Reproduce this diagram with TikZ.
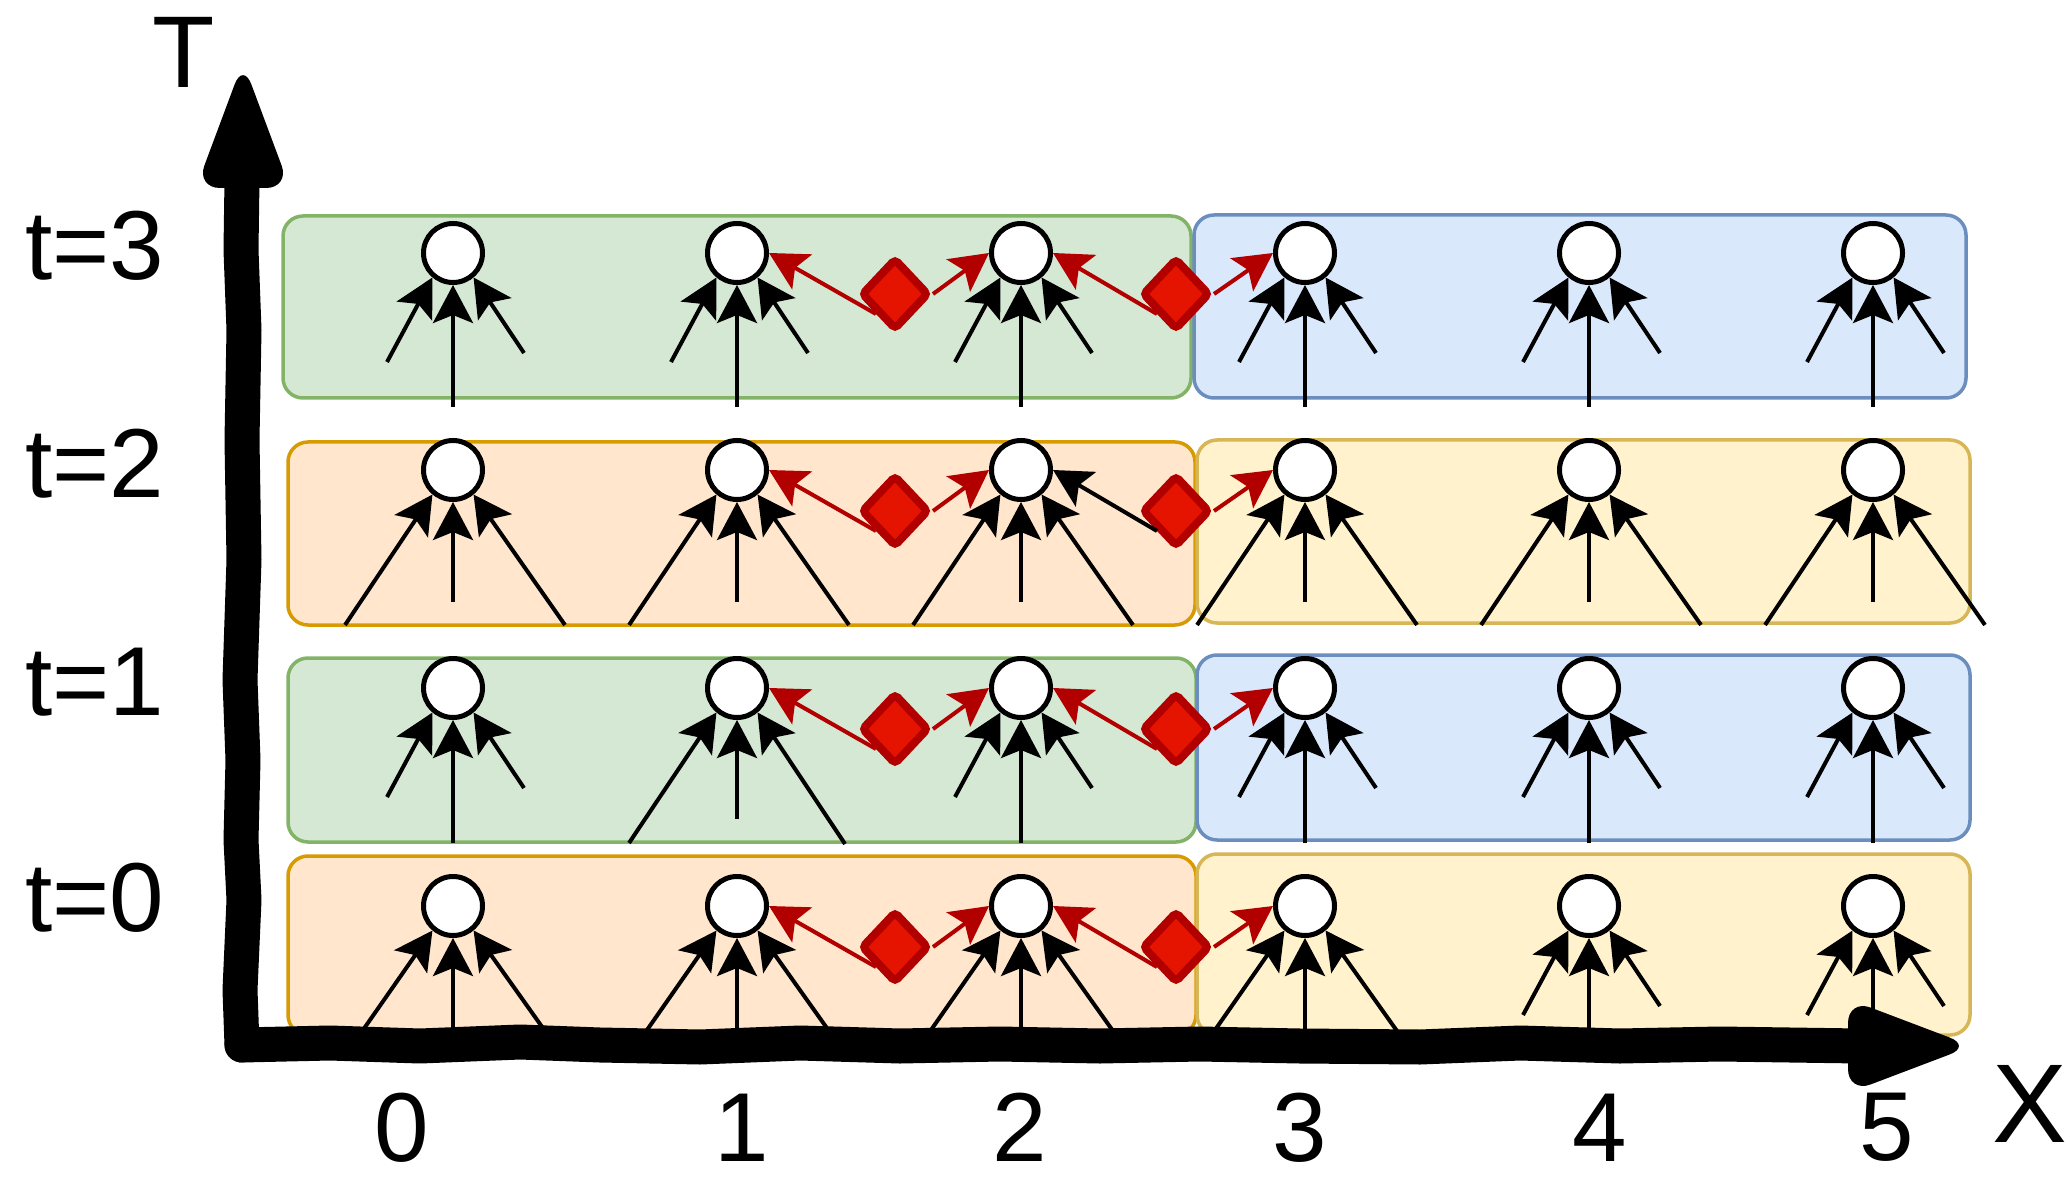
\documentclass[tikz,border=0pt]{standalone}
\usepackage{fontspec}
\setmainfont{Liberation Sans}
\usetikzlibrary{arrows.meta,shapes.geometric,calc}

\definecolor{gfill}{HTML}{D5E8D4}\definecolor{gline}{HTML}{82B366}
\definecolor{ofill}{HTML}{FFE6CC}\definecolor{oline}{HTML}{D79B00}
\definecolor{bfill}{HTML}{DAE8FC}\definecolor{bline}{HTML}{6C8EBF}
\definecolor{yfill}{HTML}{FFF2CC}\definecolor{yline}{HTML}{D6B656}
\definecolor{dfill}{HTML}{E51400}\definecolor{dline}{HTML}{B20000}

% three incoming edges of a cell: left, right and straight from below
\newcommand\fanin[7]{%
  \coordinate (fl#1#2) at ($(n#1#2)+(#3,#4)$);
  \coordinate (fr#1#2) at ($(n#1#2)+(#5,#6)$);
  \coordinate (fc#1#2) at ($(n#1#2)+(0,#7)$);
  \draw[feed] (fl#1#2) -- (n#1#2.-130);
  \draw[feed] (fr#1#2) -- (n#1#2.-50);
  \draw[feed] (fc#1#2) -- (n#1#2.south);
}

\begin{document}
\begin{tikzpicture}[x=0.5bp,y=-0.5bp,
  band/.style={rounded corners=10bp, line width=1.75bp},
  vtx/.style={circle, draw, fill=white, line width=2.5bp, minimum size=29.5bp, inner sep=0pt},
  gate/.style={diamond, draw=dline, fill=dfill, line width=4bp, minimum width=34bp,
               minimum height=36bp, inner sep=0pt, rounded corners=2bp},
  feed/.style={line width=2bp, -{Stealth[length=19bp, width=20bp, inset=4bp]}},
  link/.style={feed, dline},
  lbl/.style={font=\fontsize{49bp}{59bp}\selectfont, inner sep=0pt},
  tick/.style={lbl, anchor=base, text depth=0pt},
  axis/.style={line width=17.5bp, line cap=round, line join=round},
]
\useasboundingbox (0,0) rectangle (2070,1182);

% coloured bands, one row per time step
\draw[band, fill=gfill, draw=gline] (283,216) rectangle (1191,398);
\draw[band, fill=bfill, draw=bline] (1194,215) rectangle (1966,398);
\draw[band, fill=ofill, draw=oline] (288,442) rectangle (1195,625);
\draw[band, fill=yfill, draw=yline] (1197,440) rectangle (1970,623);
\draw[band, fill=gfill, draw=gline] (288,658) rectangle (1196,842);
\draw[band, fill=bfill, draw=bline] (1197,655) rectangle (1970,840);
\draw[band, fill=ofill, draw=oline] (288,856) rectangle (1196,1035);
\draw[band, fill=yfill, draw=yline] (1197,854) rectangle (1970,1035);

% cells
\foreach \c/\x in {0/453,1/737,2/1021,3/1305,4/1589,5/1873}
  \foreach \r/\y in {0/906,1/688,2/470,3/253}
    \node[vtx] (n\r\c) at (\x,\y) {};

% exchange gates
\foreach \r/\y in {0/906,1/688,2/470,3/253}{
  \node[gate] (a\r) at (895,{\y+41}) {};
  \node[gate] (b\r) at (1176,{\y+41}) {};
}

% gate outputs
\foreach \r in {0,1,3}{
  \draw[link] (a\r.south west) -- (n\r1.east);
  \draw[link] (a\r.east) -- (n\r2.west);
  \draw[link] (b\r.south west) -- (n\r2.east);
  \draw[link] (b\r.east) -- (n\r3.west);
}
\draw[link] (a2.south west) -- (n21.east);
\draw[link] (a2.east) -- (n22.west);
\draw[feed] (b2.south west) -- (n22.east);
\draw[link] (b2.east) -- (n23.west);

% dependencies on the previous step
\foreach \c in {0,...,5}{\fanin{3}{\c}{-66}{109}{71}{100}{154}}
\foreach \c in {0,...,5}{\fanin{2}{\c}{-108}{155}{112}{155}{132}}
\foreach \c in {0,2,3,4,5}{\fanin{1}{\c}{-66}{109}{71}{100}{155}}
\fanin{1}{1}{-108}{155}{108}{156}{131}
\foreach \c in {0,...,3}{\fanin{0}{\c}{-90}{124}{92}{125}{130}}
\foreach \c in {4,5}{\fanin{0}{\c}{-66}{109}{71}{100}{130}}

% axes
\coordinate (origin) at (242,1045);
\draw[axis] (origin) -- (240,990) -- (244,900) -- (241,840) -- (243,760) -- (240,680)
  -- (244,560) -- (242,440) -- (244,330) -- (241,250) -- (242,180);
\draw[axis] (origin) -- (330,1043) -- (420,1046) -- (520,1042) -- (600,1045) -- (700,1047)
  -- (800,1043) -- (900,1046) -- (1000,1044) -- (1100,1046) -- (1200,1044) -- (1300,1046)
  -- (1420,1047) -- (1520,1043) -- (1620,1046) -- (1720,1044) -- (1860,1046);
\fill[rounded corners=12bp] (196,188) -- (243,62) -- (290,188) -- cycle;
\fill[rounded corners=12bp] (1848,999) -- (1972,1046) -- (1848,1093) -- cycle;

% labels
\node[lbl, anchor=base, font=\fontsize{51bp}{60bp}\selectfont] (tlab) at (184,88) {T};
\node[tick, font=\fontsize{56bp}{66bp}\selectfont] (xlab) at (2030,1142) {X};
\node[lbl, anchor=base west] (lt3) at (25,280) {t=3};
\node[lbl, anchor=base west] (lt2) at (25,497) {t=2};
\node[lbl, anchor=base west] (lt1) at (25,715) {t=1};
\node[lbl, anchor=base west] (lt0) at (25,931) {t=0};
\node[tick] (x0) at (402,1161) {0};
\node[tick] (x1) at (742,1161) {1};
\node[tick] (x2) at (1020,1161) {2};
\node[tick] (x3) at (1300,1161) {3};
\node[tick] (x4) at (1600,1161) {4};
\node[tick] (x5) at (1887,1160) {5};
\end{tikzpicture}
\end{document}
